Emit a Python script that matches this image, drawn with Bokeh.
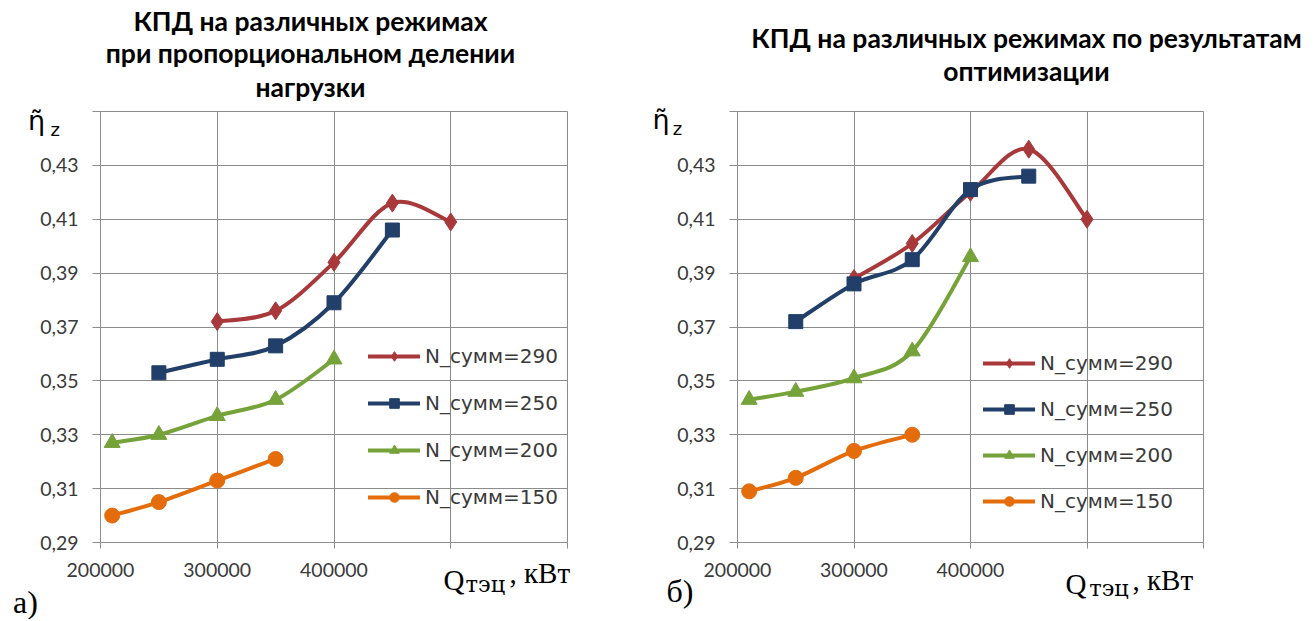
import numpy as np
from bokeh.plotting import figure
from bokeh.layouts import row
from bokeh.models import (Range1d, FixedTicker, CustomJSTickFormatter, Legend, LegendItem, Label)
from bokeh.embed import file_html
from bokeh.resources import INLINE

# ---------------- data ----------------
x_ticks = [200000, 300000, 400000, 500000, 600000]
y_ticks = [0.29, 0.31, 0.33, 0.35, 0.37, 0.39, 0.41, 0.43, 0.45]

series_names = ["N_сумм=290", "N_сумм=250", "N_сумм=200", "N_сумм=150"]

# panel a) proportional load division
a_x290 = [300000, 350000, 400000, 450000, 500000]
a_y290 = [0.372, 0.376, 0.394, 0.416, 0.409]
a_x250 = [250000, 300000, 350000, 400000, 450000]
a_y250 = [0.353, 0.358, 0.363, 0.379, 0.406]
a_x200 = [210000, 250000, 300000, 350000, 400000]
a_y200 = [0.327, 0.330, 0.337, 0.343, 0.358]
a_x150 = [210000, 250000, 300000, 350000]
a_y150 = [0.300, 0.305, 0.313, 0.321]

# panel b) optimisation results
b_x290 = [300000, 350000, 400000, 450000, 500000]
b_y290 = [0.388, 0.401, 0.420, 0.436, 0.410]
b_x250 = [250000, 300000, 350000, 400000, 450000]
b_y250 = [0.372, 0.386, 0.395, 0.421, 0.426]
b_x200 = [210000, 250000, 300000, 350000, 400000]
b_y200 = [0.343, 0.346, 0.351, 0.361, 0.396]
b_x150 = [210000, 250000, 300000, 350000]
b_y150 = [0.309, 0.314, 0.324, 0.330]

title_a = ["КПД на различных режимах", "при пропорциональном делении", "нагрузки"]
title_b = ["КПД на различных режимах по результатам", "оптимизации"]

# ---------------- style ----------------
COLORS = ["#A8383A", "#213F68", "#76A23A", "#E46C0A"]
MARKERS = [("diamond", 18), ("square", 14), ("triangle", 16), ("circle", 15)]
GRID = "#8c8c8c"
TXT = "#3a3a3a"
H = 619


def ctrl(xs, ys, t=1.0 / 6.0):
    n = len(xs)
    out = dict(x0=[], y0=[], x1=[], y1=[], cx0=[], cy0=[], cx1=[], cy1=[])
    for i in range(n - 1):
        a = i - 1 if i > 0 else i
        d = i + 2 if i + 2 < n else i + 1
        out["x0"].append(xs[i]); out["y0"].append(ys[i])
        out["x1"].append(xs[i + 1]); out["y1"].append(ys[i + 1])
        out["cx0"].append(xs[i] + (xs[i + 1] - xs[a]) * t)
        out["cy0"].append(ys[i] + (ys[i + 1] - ys[a]) * t)
        out["cx1"].append(xs[i + 1] - (xs[d] - xs[i]) * t)
        out["cy1"].append(ys[i + 1] - (ys[d] - ys[i]) * t)
    return out


def txt(p, side, x, y, text, font, size, style="normal", align="left"):
    p.add_layout(Label(x=x, y=y, x_units="screen", y_units="screen", text=text,
                       text_align=align, text_baseline="middle", text_font=font,
                       text_font_style=style, text_font_size=size, text_color="black"), side)


def make_panel(width, bl, br, bt, data, legend_loc, legend_spacing):
    p = figure(width=width, height=H, output_backend="svg", toolbar_location=None,
               x_range=Range1d(200000, 600000), y_range=Range1d(0.29, 0.45),
               min_border_left=bl, min_border_right=br, min_border_top=bt,
               min_border_bottom=H - bt - 432)
    p.background_fill_color = "white"
    p.border_fill_color = "white"
    p.outline_line_color = GRID
    p.outline_line_width = 1

    p.xaxis.ticker = FixedTicker(ticks=x_ticks)
    p.yaxis.ticker = FixedTicker(ticks=y_ticks)
    p.xgrid.ticker = FixedTicker(ticks=x_ticks)
    p.ygrid.ticker = FixedTicker(ticks=y_ticks)
    p.xaxis.formatter = CustomJSTickFormatter(code="return tick > 450000 ? '' : tick.toFixed(0);")
    p.yaxis.formatter = CustomJSTickFormatter(code="return tick > 0.44 ? '' : tick.toFixed(2).replace('.', ',');")
    for g in (p.xgrid, p.ygrid):
        g.grid_line_color = GRID
        g.grid_line_width = 1
    for ax in (p.xaxis, p.yaxis):
        ax.axis_line_color = GRID
        ax.major_tick_line_color = GRID
        ax.minor_tick_line_color = None
        ax.major_tick_in = 0
        ax.major_label_text_font = "Lato"
        ax.major_label_text_font_size = "19.5px"
        ax.major_label_text_color = TXT
    p.yaxis.major_tick_out = 8
    p.yaxis.major_label_standoff = 14
    p.xaxis.major_tick_out = 6
    p.xaxis.major_label_standoff = 14

    items = []
    for k, (xs, ys) in enumerate(data):
        c = ctrl(xs, ys)
        bz = p.bezier(x0=c["x0"], y0=c["y0"], x1=c["x1"], y1=c["y1"],
                      cx0=c["cx0"], cy0=c["cy0"], cx1=c["cx1"], cy1=c["cy1"],
                      line_color=COLORS[k], line_width=4, line_cap="round", line_join="round")
        mk, sz = MARKERS[k]
        sc = p.scatter(xs, ys, marker=mk, size=sz, fill_color=COLORS[k],
                       line_color=COLORS[k], line_width=1)
        items.append(LegendItem(label=series_names[k], renderers=[bz, sc]))

    leg = Legend(items=items, location=legend_loc, padding=0, margin=0, spacing=legend_spacing,
                 glyph_width=52, glyph_height=24, label_height=24, label_standoff=5,
                 label_text_font="DejaVu Sans", label_text_font_size="20px",
                 label_text_color=TXT, background_fill_alpha=0, border_line_alpha=0)
    p.add_layout(leg)
    return p


data_a = [(a_x290, a_y290), (a_x250, a_y250), (a_x200, a_y200), (a_x150, a_y150)]
data_b = [(b_x290, b_y290), (b_x250, b_y250), (b_x200, b_y200), (b_x150, b_y150)]

TF = "Lato"
TS = "26.5px"
SERIF = "Liberation Serif"
SUB = "DejaVu Serif"

# ---- panel a ----
pa = make_panel(653, 100, 86, 111, data_a, (268, 33), 23)
# above (closest to frame first)
txt(pa, "above", 210, 25, title_a[2], TF, TS, "bold", "center")
txt(pa, "above", 210, 26.2, title_a[1], TF, TS, "bold", "center")
txt(pa, "above", 210, 26.4, title_a[0], TF, TS, "bold", "center")
# left (after y axis)
txt(pa, "left", 21.9, 413, "z", "DejaVu Sans", "18px")
txt(pa, "left", 16.4, 422.5, "η̃", "DejaVu Sans", "27px")
# right
txt(pa, "right", -124, -37.2, "Q", SERIF, "29px")
txt(pa, "right", -122.9, -41, "тэц", SUB, "22.5px")
txt(pa, "right", -615.5, -59.2, "а)", SERIF, "32px")
# below (after x axis)
txt(pa, "below", 409, 38.3, ", кВт", SERIF, "29px")

# ---- panel b ----
pb = make_panel(659, 84, 109, 110, data_b, (246, 29), 22)
txt(pb, "above", 289, 41, title_b[1], TF, TS, "bold", "center")
txt(pb, "above", 289, 41.2, title_b[0], TF, TS, "bold", "center")
txt(pb, "above", -85, -71.6, "η̃", "DejaVu Sans", "27px")
txt(pb, "right", -537, -48.7, "б)", SERIF, "32px")
txt(pb, "right", -164.9, -41.2, "Q", SERIF, "29px")
txt(pb, "right", -578.8, 414, "z", "DejaVu Sans", "18px")
txt(pb, "right", -171.3, -45, "тэц", SUB, "22.5px")
txt(pb, "below", 395, 31.3, ", кВт", SERIF, "29px")

layout = row(pa, pb)
open("out.html", "w").write(file_html(layout, INLINE))
